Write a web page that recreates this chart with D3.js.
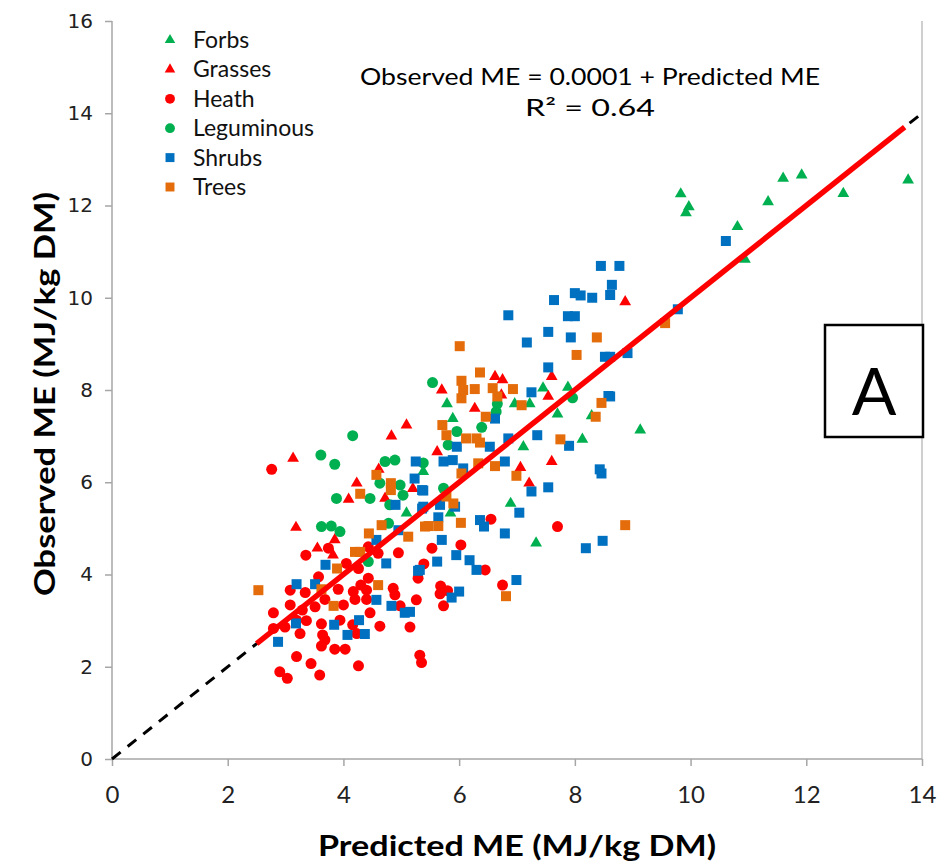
<!DOCTYPE html>
<html>
<head>
<meta charset="utf-8">
<style>
html, body {
  margin: 0px;
  padding: 0px;
  background: #fff;
}
svg text {
  font-family: Lato, "Open Sans", sans-serif;
}
</style>
</head>
<body>
<div id="chart"></div>
<script src="https://cdn.jsdelivr.net/npm/d3@7/dist/d3.min.js"></script>
<script>
  // values, [predicted, observed]
  var forbs = [[9.83,12.25],[9.92,11.84],[9.97,11.97],[10.81,11.54],[10.94,10.83],[11.34,12.08],
    [11.60,12.59],[11.92,12.66],[12.64,12.26],[13.76,12.55],[9.13,7.13],[7.45,8.04],[7.88,8.06],
    [5.79,7.70],[6.96,7.70],[7.22,7.70],[7.70,7.48],[8.29,7.44],[5.89,7.38],[8.13,6.93],[7.11,6.77],
    [5.38,6.23],[6.89,5.54],[5.85,5.33],[7.33,4.68],[5.09,5.33]];
  var grasses = [[8.87,9.91],[7.60,8.29],[6.62,8.29],[6.75,8.22],[5.70,8.00],[6.73,7.89],[7.54,7.86],
    [6.27,7.60],[5.62,6.66],[7.60,6.45],[7.06,6.32],[7.21,5.98],[5.09,7.24],[4.83,7.00],[3.13,6.52],
    [4.61,6.28],[4.23,5.98],[5.20,5.86],[4.09,5.63],[4.72,5.65],[3.18,5.02],[3.85,4.75],[3.55,4.57],
    [3.82,4.42]];
  var heath = [[2.76,6.28],[6.55,5.20],[7.70,5.04],[5.53,4.57],[6.03,4.64],[5.39,4.23],[6.45,4.10],
    [6.75,3.77],[5.68,3.75],[5.80,3.65],[5.67,3.58],[5.73,3.32],[5.32,2.25],[5.35,2.09],[3.74,4.57],
    [3.35,4.42],[4.43,4.60],[4.95,4.47],[4.60,4.46],[4.05,4.24],[5.29,3.92],[3.57,3.95],[4.26,4.13],
    [4.43,3.92],[3.08,3.66],[3.34,3.61],[3.91,3.68],[4.17,3.63],[4.30,3.77],[4.40,3.66],[4.86,3.70],
    [4.89,3.56],[3.68,3.46],[4.40,3.46],[4.20,3.46],[5.26,3.45],[3.08,3.34],[4.00,3.34],[4.98,3.32],
    [2.79,3.17],[3.29,3.23],[3.51,3.30],[4.46,3.17],[3.19,3.01],[3.36,3.00],[3.62,2.93],[3.94,3.01],
    [4.16,2.91],[4.63,2.88],[5.15,2.86],[2.79,2.83],[2.99,2.86],[3.25,2.72],[3.64,2.69],[3.68,2.58],
    [4.23,2.72],[3.62,2.45],[3.85,2.38],[4.03,2.38],[3.19,2.22],[3.44,2.07],[4.26,2.02],[2.90,1.89],
    [3.03,1.75],[3.59,1.82]];
  var leguminous = [[5.54,8.16],[7.96,7.83],[6.66,7.70],[6.64,7.53],[6.39,7.19],[5.96,7.10],[5.81,6.81],
    [5.38,6.42],[5.73,5.87],[4.16,7.01],[3.61,6.59],[3.85,6.39],[4.72,6.45],[4.89,6.48],[4.63,5.98],
    [4.98,5.94],[3.88,5.65],[4.46,5.65],[5.03,5.72],[4.80,5.51],[3.62,5.04],[3.79,5.05],[3.94,4.93],
    [4.78,5.11],[4.43,4.28]];
  var shrubs = [[10.61,11.23],[8.77,10.69],[8.45,10.69],[8.64,10.28],[8.61,10.06],[9.78,9.75],[8.91,8.80],
    [8.61,8.72],[8.61,7.86],[8.48,4.73],[7.54,9.26],[7.93,9.14],[7.17,9.03],[8.52,8.72],[7.54,8.49],
    [7.25,7.95],[8.58,7.87],[6.62,7.38],[6.85,6.95],[7.35,7.02],[5.96,6.77],[6.53,6.77],[7.90,6.79],
    [5.73,6.45],[5.89,6.48],[6.79,6.45],[8.43,6.28],[6.07,6.30],[8.46,6.19],[7.54,5.89],[7.25,5.80],
    [5.38,5.82],[5.67,5.51],[5.93,5.47],[5.38,5.47],[7.04,5.34],[5.64,5.24],[6.36,5.18],[6.43,5.04],
    [6.79,4.89],[8.19,4.57],[5.70,4.75],[5.95,4.42],[6.18,4.31],[5.62,4.28],[6.30,4.10],[5.32,4.10],
    [6.99,3.88],[6.00,3.63],[5.87,3.50],[5.25,6.45],[5.23,6.08],[5.36,5.83],[4.90,5.51],[5.36,5.43],
    [4.95,4.96],[4.57,4.75],[3.69,4.21],[4.74,4.24],[5.29,4.08],[3.19,3.79],[3.51,3.79],[4.57,3.45],
    [4.83,3.32],[5.06,3.17],[5.15,3.19],[3.18,2.94],[3.84,2.91],[4.27,3.01],[4.07,2.69],[4.37,2.71],
    [2.87,2.54],[7.64,9.95],[8.00,10.10],[8.10,10.05],[8.30,10.00],[7.88,9.60],[8.00,9.60],[6.85,9.62]];
  var trees = [[9.56,9.45],[8.87,5.07],[8.38,9.14],[6.01,8.95],[8.03,8.76],[6.36,8.38],[6.04,8.20],
    [6.07,8.00],[6.27,8.02],[6.58,8.04],[6.93,8.02],[6.04,7.82],[6.66,7.86],[7.08,7.67],[8.46,7.72],
    [8.36,7.42],[6.46,7.42],[5.71,7.24],[5.78,7.02],[6.12,6.95],[6.30,6.95],[6.36,6.86],[7.75,6.93],
    [6.62,6.35],[6.33,6.41],[6.04,6.19],[6.99,6.14],[5.78,5.69],[5.90,5.54],[5.47,5.05],[5.64,5.05],
    [6.03,5.12],[6.81,3.53],[4.57,6.16],[4.82,5.98],[4.82,5.83],[4.29,5.75],[4.66,5.07],[4.44,4.89],
    [5.12,4.82],[4.20,4.49],[4.29,4.49],[5.41,5.04],[3.89,4.13],[2.53,3.66],[3.62,3.68],[4.60,3.77],
    [3.83,3.32]];

  var xTicks = [0, 2, 4, 6, 8, 10, 12, 14];
  var yTicks = [0, 2, 4, 6, 8, 10, 12, 14, 16];
  var fitRange = [2.5, 13.7];   // where the red fitted line is drawn
  var intercept = 0.0001;

  var series = [
    { name: "Forbs", pts: forbs, shape: d3.symbolTriangle, size: 60, color: "#00B050" },
    { name: "Grasses", pts: grasses, shape: d3.symbolTriangle, size: 60, color: "#FF0000" },
    { name: "Heath", pts: heath, shape: d3.symbolCircle, size: 95, color: "#FF0000" },
    { name: "Leguminous", pts: leguminous, shape: d3.symbolCircle, size: 95, color: "#00B050" },
    { name: "Shrubs", pts: shrubs, shape: d3.symbolSquare, size: 100, color: "#0070C0" },
    { name: "Trees", pts: trees, shape: d3.symbolSquare, size: 100, color: "#E46C0A" }
  ];

  var W = 943, H = 867;
  var svg = d3.select("#chart").append("svg")
    .attr("width", W)
    .attr("height", H);

  var x = d3.scaleLinear().domain([0, 14]).range([112, 922]);
  var y = d3.scaleLinear().domain([0, 16]).range([759, 21]);

  // frame of the plot area
  svg.append("line")
    .attr("x1", x(14)).attr("x2", x(14))
    .attr("y1", y(0)).attr("y2", y(16))
    .attr("stroke", "#bfbfbf").attr("stroke-width", 1.5);

  var xAxis = svg.append("g")
    .attr("transform", "translate(0," + y(0) + ")")
    .call(d3.axisBottom(x).tickValues(xTicks).tickSize(7).tickPadding(20));
  var yAxis = svg.append("g")
    .attr("transform", "translate(" + x(0) + ",0)")
    .call(d3.axisLeft(y).tickValues(yTicks).tickSize(7).tickPadding(12));

  svg.selectAll(".domain, .tick line")
    .attr("stroke", "#a6a6a6").attr("stroke-width", 1.5);
  xAxis.selectAll("text")
    .style("font-family", "Lato, sans-serif")
    .style("font-size", "24px")
    .attr("fill", "#222");
  yAxis.selectAll("text")
    .style("font-family", "'DejaVu Sans', sans-serif")
    .style("font-size", "20px")
    .attr("fill", "#222");
  xAxis.select(".domain").attr("d", "M" + x(0) + ",0H" + x(14));
  yAxis.select(".domain").attr("d", "M0," + y(0) + "V" + y(16));

  // points
  series.forEach(function (s) {
    svg.append("g").selectAll("path")
      .data(s.pts)
      .enter()
      .append("path")
      .attr("d", d3.symbol().type(s.shape).size(s.size))
      .attr("transform", function (d) { return "translate(" + x(d[0]) + "," + y(d[1]) + ")"; })
      .attr("fill", s.color);
  });

  // 1:1 dashed line
  svg.append("line")
    .attr("x1", x(0)).attr("y1", y(0))
    .attr("x2", x(14)).attr("y2", y(14))
    .attr("stroke", "#000").attr("stroke-width", 3)
    .attr("stroke-dasharray", "11,9");

  // fitted line
  svg.append("line")
    .attr("x1", x(fitRange[0])).attr("y1", y(fitRange[0] + intercept))
    .attr("x2", x(fitRange[1])).attr("y2", y(fitRange[1] + intercept))
    .attr("stroke", "#FF0000").attr("stroke-width", 5.5);

  // legend
  var legend = svg.append("g");
  series.forEach(function (s, i) {
    var ly = 40 + i * 29.4;
    legend.append("path")
      .attr("d", d3.symbol().type(s.shape).size(s.size * 0.8))
      .attr("transform", "translate(170," + ly + ")")
      .attr("fill", s.color);
    legend.append("text")
      .attr("x", 193).attr("y", ly + 8)
      .style("font-size", "23px")
      .attr("fill", "#111")
      .text(s.name);
  });

  // equation
  svg.append("text")
    .attr("x", 590).attr("y", 85)
    .attr("text-anchor", "middle")
    .style("font-size", "24px")
    .attr("textLength", 460).attr("lengthAdjust", "spacingAndGlyphs")
    .text("Observed ME = 0.0001 + Predicted ME");
  svg.append("text")
    .attr("x", 590).attr("y", 116)
    .attr("text-anchor", "middle")
    .style("font-size", "24px")
    .attr("textLength", 130).attr("lengthAdjust", "spacingAndGlyphs")
    .text("R² = 0.64");

  // panel label
  svg.append("rect")
    .attr("x", 825).attr("y", 325)
    .attr("width", 98).attr("height", 112)
    .attr("fill", "#fff").attr("stroke", "#000").attr("stroke-width", 2.5);
  svg.append("text")
    .attr("x", 874).attr("y", 415)
    .attr("text-anchor", "middle")
    .style("font-size", "66px")
    .text("A");

  // axis titles
  svg.append("text")
    .attr("x", 517).attr("y", 856)
    .attr("text-anchor", "middle")
    .style("font-size", "28px").style("font-weight", "bold")
    .attr("textLength", 398).attr("lengthAdjust", "spacingAndGlyphs")
    .text("Predicted ME (MJ/kg DM)");
  svg.append("text")
    .attr("transform", "translate(55,394) rotate(-90)")
    .attr("text-anchor", "middle")
    .style("font-size", "28px").style("font-weight", "bold")
    .attr("textLength", 404).attr("lengthAdjust", "spacingAndGlyphs")
    .text("Observed ME (MJ/kg DM)");
</script>
</body>
</html>
